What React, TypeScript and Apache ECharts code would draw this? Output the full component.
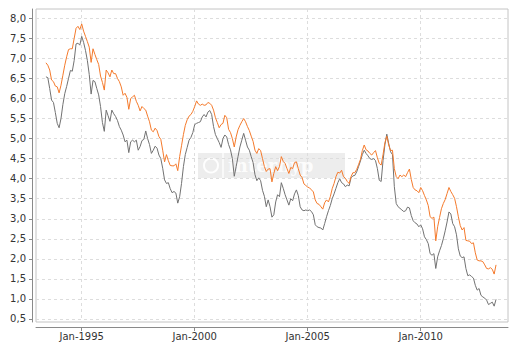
import React, { useEffect, useRef } from "react";
import * as echarts from "echarts";

// months counted from Jan-1995; first value is Jun-1993
const START_MONTH = -19;

const orangeValues = [
  6.89, 6.83, 6.71, 6.46, 6.42, 6.31, 6.29, 6.14, 6.33, 6.58, 6.83, 7.04,
  7.22, 7.24, 7.24, 7.5, 7.75, 7.8, 7.72, 7.86, 7.68, 7.55, 7.42, 7.28,
  6.9, 7.24, 7.1, 6.97, 6.85, 6.56, 6.4, 6.21, 6.71, 6.64, 6.54, 6.71,
  6.62, 6.62, 6.5, 6.42, 6.29, 6.08, 6.13, 6.03, 5.73, 6.0, 6.04, 6.08,
  5.93, 5.83, 5.69, 5.8, 5.75, 5.71, 5.56, 5.42, 5.21, 5.17, 5.26, 5.2,
  5.05, 4.98, 4.71, 4.42, 4.6, 4.45, 4.33, 4.32, 4.32, 4.37, 4.2, 4.55,
  4.82, 5.1, 5.33, 5.47, 5.56, 5.6, 5.68, 5.8, 5.94, 5.86, 5.83, 5.86,
  5.83, 5.84, 5.9, 5.88, 5.83, 5.71, 5.52, 5.4, 5.27, 5.35, 5.38, 5.58,
  5.52, 5.23, 5.15, 5.0, 4.79, 5.04, 5.22, 5.33, 5.42, 5.5, 5.42, 5.3,
  5.2, 5.06, 4.93, 4.71, 4.63, 4.75, 4.7, 4.5, 4.3, 4.18, 4.24, 4.25,
  3.92, 4.13, 4.3, 4.2, 4.3, 4.55, 4.43, 4.38, 4.25, 4.13, 4.28, 4.25,
  4.4, 4.42, 4.25, 4.09, 4.03, 3.87, 3.83, 3.79, 3.77, 3.72, 3.67, 3.47,
  3.38, 3.36, 3.3, 3.24, 3.4, 3.47, 3.42, 3.55, 3.75, 3.88, 4.05, 4.16,
  4.14, 4.21, 4.05, 4.01, 3.93, 3.88, 4.05, 4.15, 4.15, 4.23, 4.35, 4.48,
  4.7, 4.84, 4.72, 4.69, 4.63, 4.59, 4.65, 4.7, 4.52, 4.38, 4.34, 4.6,
  4.9, 5.06, 4.84, 4.7, 4.71, 4.25, 4.05, 4.0, 4.09, 4.05, 4.09, 4.05,
  4.15, 4.24, 3.98, 3.78, 3.72, 3.7, 3.65, 3.78, 3.7, 3.58, 3.47, 3.33,
  3.05, 3.01, 3.04, 2.45, 2.8, 3.03, 3.25, 3.38, 3.48, 3.63, 3.78, 3.68,
  3.6, 3.51, 3.3, 3.05, 2.83, 2.72, 2.78, 2.46, 2.45, 2.44, 2.38, 2.4,
  2.15, 1.97, 1.95, 1.95, 1.93, 1.85, 1.76, 1.75, 1.78, 1.74, 1.62, 1.85,
];

const grayValues = [
  6.54, 6.52, 6.25, 5.96, 5.9, 5.65, 5.38, 5.27, 5.5, 5.85, 6.12, 6.3,
  6.5, 6.7, 6.68, 6.95, 7.36, 7.38, 7.33, 7.55, 7.4, 7.2, 6.95, 6.6,
  6.11, 6.45, 6.42, 6.25, 6.09, 5.8, 5.4, 5.18, 5.71, 5.57, 5.43, 5.71,
  5.62, 5.55, 5.45, 5.3, 5.21, 5.09, 4.92, 4.96, 4.65, 4.92, 4.96, 4.92,
  4.96, 4.71, 4.8, 4.95, 4.98, 5.19, 5.0, 4.85, 4.63, 4.71, 4.81, 4.76,
  4.59, 4.5, 4.26, 3.97, 3.88, 3.9, 3.75, 3.65, 3.68, 3.64, 3.39, 3.55,
  3.88, 4.3, 4.6, 4.78, 4.96, 5.03, 5.15, 5.35, 5.38, 5.4, 5.42, 5.54,
  5.6, 5.54, 5.66, 5.7, 5.6, 5.3, 5.1, 5.0, 4.9, 4.78, 5.0, 5.09,
  5.04, 4.85, 4.72, 4.5, 4.06, 4.3, 4.55, 4.79, 4.96, 5.13, 4.96, 4.79,
  4.71, 4.55, 4.4, 4.1, 3.95, 4.02, 3.95, 3.71, 3.56, 3.3, 3.47, 3.3,
  3.04, 3.1, 3.42, 3.6, 3.55, 3.9, 3.76, 3.6, 3.47, 3.34, 3.5, 3.45,
  3.62, 3.72, 3.58, 3.3, 3.22, 3.2, 3.22, 3.2, 3.22, 3.18, 3.1, 2.85,
  2.8, 2.78, 2.77, 2.72, 2.88, 3.05, 3.2, 3.33, 3.5, 3.62, 3.76, 3.9,
  4.0, 3.9, 3.87, 3.8, 3.84, 3.82, 4.02, 4.07, 4.08, 4.17, 4.3, 4.44,
  4.6, 4.71, 4.63, 4.57, 4.5, 4.48, 4.5, 4.45, 4.25, 3.96, 3.93, 4.45,
  4.85, 5.11, 4.88, 4.67, 4.6, 3.8, 3.38, 3.3, 3.26, 3.22, 3.18, 3.2,
  3.29, 3.27, 3.08, 2.95, 2.9, 2.87, 2.8, 2.85, 2.75, 2.55, 2.48, 2.38,
  2.13, 2.09, 2.13, 1.76, 2.05, 2.2, 2.33, 2.5, 2.7, 2.92, 3.17, 3.12,
  2.88, 2.8, 2.6, 2.25, 2.07, 2.03, 2.05, 1.76, 1.58, 1.6, 1.56, 1.52,
  1.34, 1.22, 1.26, 1.09, 1.05, 1.02, 0.97, 0.86, 0.89, 0.92, 0.82, 0.99,
];

const xTickMonths = [0, 60, 120, 180];
const yTicks = [0.5, 1.0, 1.5, 2.0, 2.5, 3.0, 3.5, 4.0, 4.5, 5.0, 5.5, 6.0, 6.5, 7.0, 7.5, 8.0];

const toPairs = (vals: number[]) => vals.map((v, i) => [START_MONTH + i, v]);

export default function App() {
  const ref = useRef<HTMLDivElement>(null);
  useEffect(() => {
    if (!ref.current) return;
    const chart = echarts.init(ref.current, undefined, { renderer: "svg" });
    const font = "DejaVu Sans";
    chart.setOption({
      animation: false,
      backgroundColor: "#ffffff",
      grid: {
        left: 36,
        right: 12,
        top: 9,
        bottom: 25,
        show: true,
        borderColor: "#c4c4c4",
        borderWidth: 1,
        backgroundColor: "transparent",
      },
      xAxis: {
        type: "value",
        min: -24.27,
        max: 226.35,
        offset: 5,
        axisLine: { show: true, onZero: false, lineStyle: { color: "#8a8a8a", width: 1 } },
        axisTick: { show: true, length: 4, customValues: xTickMonths, lineStyle: { color: "#8a8a8a" } },
        axisLabel: {
          customValues: xTickMonths,
          margin: 4,
          color: "#333",
          fontFamily: font,
          fontSize: 10,
          formatter: (v: number) => "Jan-" + (1995 + Math.round(v / 12)),
        },
        splitLine: { show: true, lineStyle: { color: "#dddddd", type: [3, 3], width: 1 } },
      },
      yAxis: {
        type: "value",
        min: 0.425,
        max: 8.232,
        offset: 4,
        axisLine: { show: true, onZero: false, lineStyle: { color: "#8a8a8a", width: 1 } },
        axisTick: { show: true, length: 3, customValues: yTicks, lineStyle: { color: "#8a8a8a" } },
        axisLabel: {
          customValues: yTicks,
          margin: 6,
          color: "#333",
          fontFamily: font,
          fontSize: 10,
          formatter: (v: number) => v.toFixed(1).replace(".", ","),
        },
        splitLine: { show: true, lineStyle: { color: "#dddddd", type: [3, 3], width: 1 } },
      },
      graphic: [
        {
          type: "group",
          z: 1,
          children: [
            { type: "rect", shape: { x: 198, y: 153, width: 147, height: 25 }, style: { fill: "rgba(225,225,225,0.6)" } },
            { type: "circle", shape: { cx: 211, cy: 165.5, r: 7 }, style: { fill: "none", stroke: "rgba(255,255,255,0.9)", lineWidth: 2 } },
            { type: "line", shape: { x1: 223, y1: 153, x2: 223, y2: 178 }, style: { stroke: "rgba(255,255,255,0.9)", lineWidth: 1.5 } },
            {
              type: "text",
              x: 228,
              y: 165.5,
              style: {
                text: "interhyp",
                fill: "rgba(255,255,255,0.9)",
                font: "bold 18px 'DejaVu Serif'",
                verticalAlign: "middle",
              },
            },
          ],
        },
      ],
      series: [
        {
          type: "line",
          data: toPairs(grayValues),
          showSymbol: false,
          lineStyle: { color: "#727272", width: 1 },
          itemStyle: { color: "#727272" },
          z: 3,
        },
        {
          type: "line",
          data: toPairs(orangeValues),
          showSymbol: false,
          lineStyle: { color: "#f47a2c", width: 1 },
          itemStyle: { color: "#f47a2c" },
          z: 4,
        },
      ],
    });
    return () => chart.dispose();
  }, []);
  return <div ref={ref} style={{ position: "fixed", left: 0, top: 0, width: 520, height: 347 }} />;
}
